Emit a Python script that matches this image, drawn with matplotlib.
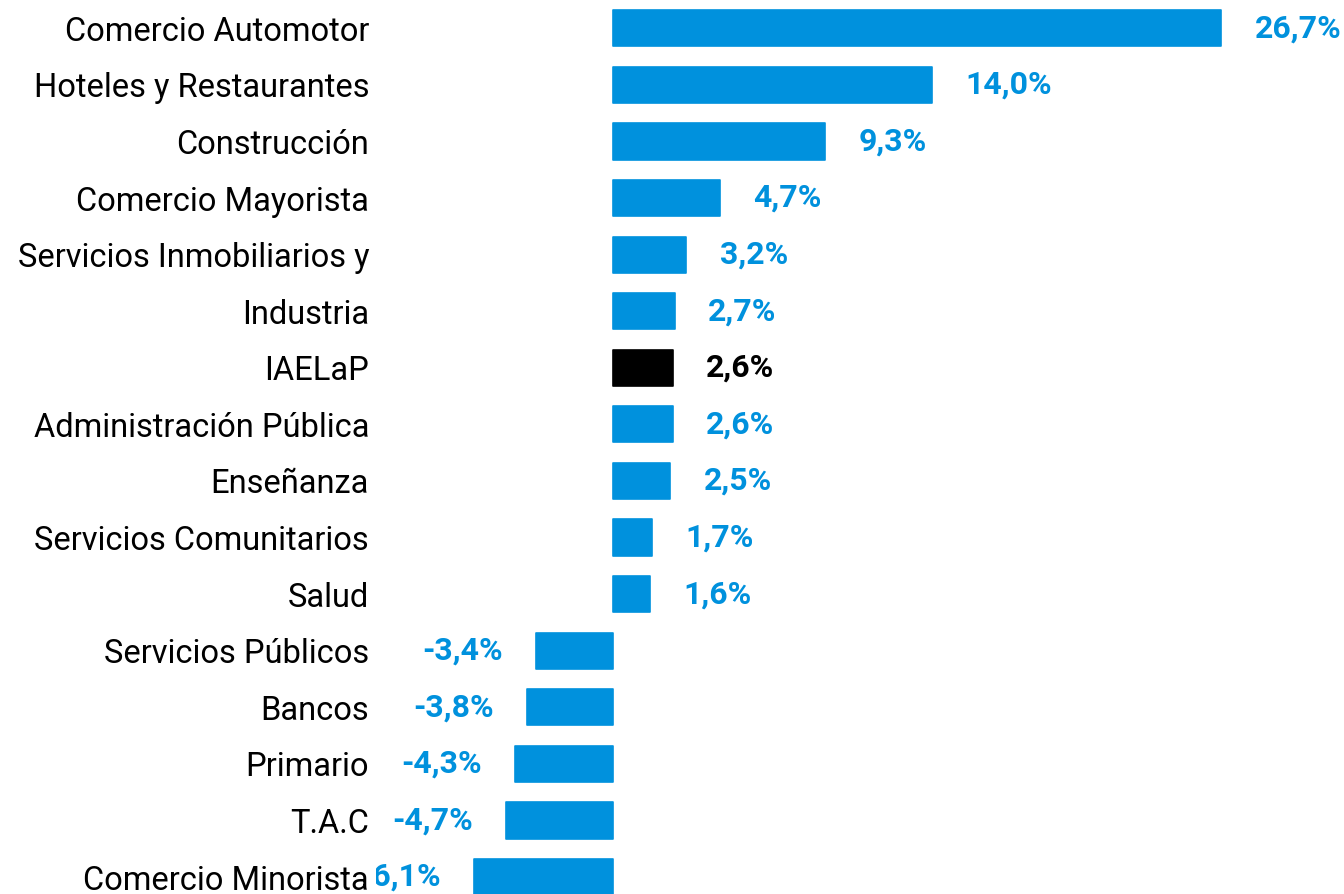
import matplotlib.pyplot as plt

# data
sectores = ['Comercio Automotor', 'Hoteles y Restaurantes', 'Construcción',
            'Comercio Mayorista', 'Servicios Inmobiliarios y', 'Industria',
            'IAELaP', 'Administración Pública', 'Enseñanza',
            'Servicios Comunitarios', 'Salud', 'Servicios Públicos', 'Bancos',
            'Primario', 'T.A.C', 'Comercio Minorista']
variacion = [26.7, 14.0, 9.3, 4.7, 3.2, 2.7, 2.6, 2.6, 2.5, 1.7, 1.6,
             -3.4, -3.8, -4.3, -4.7, -6.1]
destacado = 'IAELaP'

azul = '#0091dd'
colores = ['black' if s == destacado else azul for s in sectores]

plt.rcParams['font.family'] = ['Roboto', 'DejaVu Sans']

fig = plt.figure(figsize=(13.44, 8.94), dpi=100)
left_px = 376
ax = fig.add_axes([left_px / 1344, 0, 1 - left_px / 1344, 1])

pos = list(range(len(sectores)))
bars = ax.barh(pos, variacion, height=0.64, color=colores,
               edgecolor=colores, linewidth=1.2)
for b in bars:
    b.set_joinstyle('round')

ax.set_yticks(pos)
ax.set_yticklabels(sectores, fontsize=23.5)
ax.tick_params(axis='y', length=0, pad=(left_px - 369) * 0.72)
ax.tick_params(axis='x', bottom=False, labelbottom=False)

for i, v in enumerate(variacion):
    txt = f'{v:.1f}%'.replace('.', ',')
    off = 24 if v >= 0 else -24
    ann = ax.annotate(txt, (v, i), xytext=(off, 0), textcoords='offset points',
                      ha='left' if v >= 0 else 'right', va='center',
                      fontsize=23, fontweight='bold', color=colores[i],
                      annotation_clip=False)
    ann.set_clip_box(ax.bbox)
    ann.set_clip_on(True)

ax.set_xlim(-(613 - left_px) / 22.73, 32.1)
ax.set_ylim(15.3, -0.5)
for s in ax.spines.values():
    s.set_visible(False)

fig.savefig('out.png', dpi=100)
